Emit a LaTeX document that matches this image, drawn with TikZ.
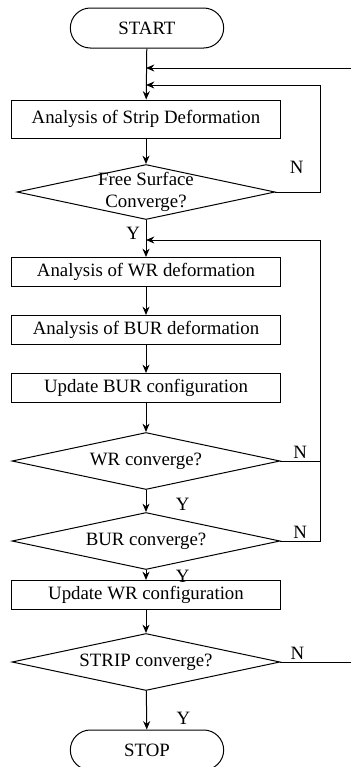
\documentclass[tikz,border=0pt]{standalone}
\usepackage{fontspec}
\setmainfont{Liberation Serif}
\usetikzlibrary{shapes.geometric, arrows.meta}

\begin{document}
\begin{tikzpicture}[x=0.6pt, y=-0.6pt, ->, >={Stealth[length=5pt, width=4.2pt]}, semithick,
  font=\fontsize{11.3}{13.5}\selectfont,
  term/.style={draw, rectangle, rounded corners=12pt, minimum width=92pt, minimum height=24pt, inner sep=0pt},
  proc/.style={draw, rectangle, minimum width=161.4pt, minimum height=17.4pt, inner sep=0pt},
  decide/.style={draw, diamond, aspect=4.7, minimum width=160.8pt, minimum height=34.2pt, inner sep=0pt},
  nlbl/.style={above, inner sep=1pt},
  ]
  \useasboundingbox (0,0) rectangle (350,767);

  % main column
  \node[term] (start) at (147,28) {START};
  \node[proc, minimum height=22.8pt] (strip) at (146,119) {Analysis of Strip Deformation};
  \node[decide, minimum width=154.8pt, minimum height=33pt,
        label={[align=center, inner sep=0pt]center:Free Surface\\Converge?}] (free) at (146,192) {};
  \node[proc] (wrdef) at (146,272) {Analysis of WR deformation};
  \node[proc] (burdef) at (146,330) {Analysis of BUR deformation};
  \node[proc] (burupd) at (146,388) {Update BUR configuration};
  \node[decide] (wrconv) at (146,461) {WR converge?};
  \node[decide] (burconv) at (146,541) {BUR converge?};
  \node[proc] (wrupd) at (146,595) {Update WR configuration};
  \node[decide] (stripconv) at (146,662) {STRIP converge?};
  \node[term] (stop) at (147,750) {STOP};

  % junctions and return columns
  \coordinate (j0) at (146,68);
  \coordinate (j1) at (146,85);
  \coordinate (j2) at (146,240);
  \coordinate (r1) at (320,0);
  \coordinate (r0) at (354,0);

  \draw (start) -- (strip);
  \draw (strip) -- (free);
  \draw (free) -- node[left, pos=0.36] {Y} (wrdef);
  \draw (wrdef) -- (burdef);
  \draw (burdef) -- (burupd);
  \draw (burupd) -- (wrconv);
  \draw (wrconv) -- node[pos=0.67, xshift=22pt] {Y} (burconv);
  \draw (burconv) -- node[pos=0.6, xshift=22pt] {Y} (wrupd);
  \draw (wrupd) -- (stripconv);
  \draw (stripconv) -- node[pos=0.72, xshift=22pt] {Y} (stop);

  % loops back
  \draw (free.east) -- (r1 |- free.east) node[xshift=-14pt, yshift=15pt] {N} |- (j1);
  \draw (wrconv.east) -- node[nlbl, pos=0.5] {N} (r1 |- wrconv.east) |- (j2);
  \draw[-] (burconv.east) -- node[nlbl, pos=0.5] {N} (r1 |- burconv.east) -- (r1 |- wrconv.east);
  \draw (stripconv.east) -- node[nlbl, pos=0.23] {N} (r0 |- stripconv.east) |- (j0);

\end{tikzpicture}
\end{document}
